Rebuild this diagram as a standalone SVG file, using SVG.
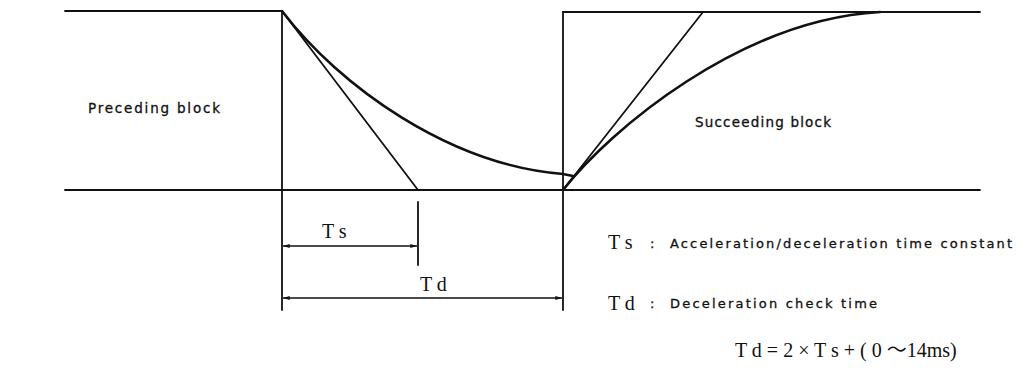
<svg xmlns="http://www.w3.org/2000/svg" width="1025" height="371" viewBox="0 0 1025 371">
<defs>
<style>
.ln{stroke:#111;stroke-width:1.8;fill:none;stroke-linecap:round}
.cv{stroke:#111;stroke-width:2.6;fill:none;stroke-linecap:round}
.dim{stroke:#111;stroke-width:1.6;fill:none}
.lbl{font-family:"DejaVu Sans","Liberation Sans",sans-serif;font-size:13.5px;fill:#111;stroke:#111;stroke-width:0.3}
.sym{font-family:"Liberation Serif","Noto Sans CJK JP",serif;font-size:20px;fill:#111}
.txt{font-family:"DejaVu Sans","Liberation Sans",sans-serif;font-size:13px;fill:#111;stroke:#111;stroke-width:0.3}
</style>
<marker id="ar" viewBox="0 0 10 6" refX="10" refY="3" markerWidth="8" markerHeight="4" orient="auto-start-reverse" markerUnits="userSpaceOnUse">
<path d="M0,0 L10,3 L0,6 Z" fill="#111"/>
</marker>
</defs>
<rect width="1025" height="371" fill="#fff"/>
<g id="connectors">
<path class="ln" d="M65,11 H282 V310"/>
<path class="ln" d="M563,310 V12 H980"/>
<path class="ln" d="M65,190 H980"/>
<path class="ln" d="M282,11 L418,190"/>
<path class="ln" d="M563,190 L703,12"/>
<path class="cv" d="M282,11 C340,87 450,165 563,174 L573,176"/>
<path class="cv" d="M563,190 C610,130 740,20 880,12"/>
<path class="ln" d="M418,202 V265"/>
<path class="dim" d="M283,246 H417" marker-start="url(#ar)" marker-end="url(#ar)"/>
<path class="dim" d="M283,298 H562" marker-start="url(#ar)" marker-end="url(#ar)"/>
</g>
<g id="preceding-block"><text class="lbl" x="88" y="113" textLength="132" lengthAdjust="spacing">Preceding block</text></g>
<g id="succeeding-block"><text class="lbl" x="695" y="127" textLength="136" lengthAdjust="spacing">Succeeding block</text></g>
<g id="ts-dim"><text class="sym" x="322" y="238">T s</text></g>
<g id="td-dim"><text class="sym" x="420" y="291">T d</text></g>
<g id="legend-ts"><text class="sym" x="608" y="249">T s</text><text class="txt" x="650" y="248">:</text><text class="txt" x="670" y="248" textLength="342" lengthAdjust="spacing">Acceleration/deceleration time constant</text></g>
<g id="legend-td"><text class="sym" x="608" y="310">T d</text><text class="txt" x="650" y="308">:</text><text class="txt" x="670" y="308" textLength="207" lengthAdjust="spacing">Deceleration check time</text></g>
<g id="formula"><text class="sym" x="735" y="357">T d = 2 × T s + ( 0 〜14ms)</text></g>
</svg>
